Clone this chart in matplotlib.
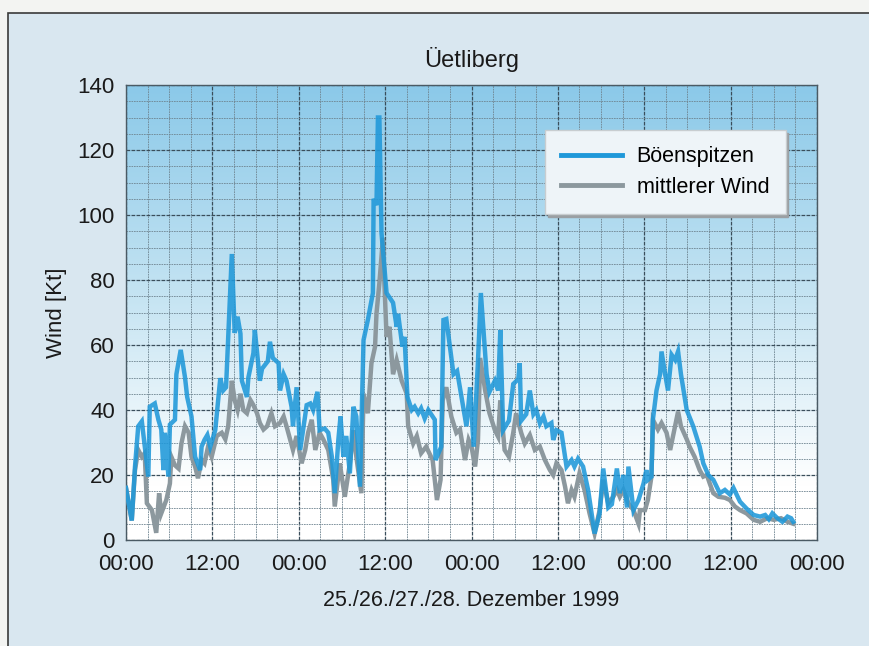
import matplotlib
matplotlib.use("Agg")
import matplotlib.pyplot as plt
import numpy as np
from matplotlib.colors import LinearSegmentedColormap
from matplotlib.patches import Rectangle

plt.rcParams['font.family'] = ['Liberation Sans', 'DejaVu Sans']

# hours since 25.12.1999 00:00, wind in Kt
gust_t = [0.0, 0.8, 1.25, 1.7, 2.2, 3.1, 3.3, 4.0, 4.5, 4.9, 5.2, 5.4, 5.9, 6.1, 6.8, 7.0, 7.6, 8.2, 8.5, 9.1,
          9.6, 10.3, 10.5, 10.9, 11.3, 11.7, 12.4, 13.1, 13.5, 13.9, 14.7, 15.1, 15.5, 15.9, 16.1, 16.8, 17.0, 17.7,
          17.9, 18.6, 18.9, 19.7, 20.0, 20.4, 21.2, 21.4, 21.9, 22.3, 23.0, 23.2, 23.7, 24.2, 24.4, 25.1, 25.6, 26.0,
          26.6, 26.9, 27.6, 28.1, 28.6, 29.0, 29.5, 29.8, 30.2, 30.6, 31.1, 31.6, 32.0, 32.5, 33.0, 33.6, 34.3, 34.4,
          34.8, 35.0, 35.2, 35.5, 36.2, 37.1, 37.6, 37.8, 38.4, 38.7, 39.1, 39.7, 40.1, 40.6, 41.0, 41.5, 42.0, 42.9,
          43.0, 43.8, 44.1, 44.5, 45.5, 46.0, 47.3, 47.8, 48.3, 48.9, 49.3, 50.1, 50.5, 51.25, 51.7, 52.0, 52.4, 53.2,
          53.8, 54.5, 54.7, 54.9, 55.6, 56.1, 56.6, 57.0, 57.5, 58.0, 58.4, 59.1, 59.35, 59.8, 60.5, 61.2, 61.9, 62.3,
          62.8, 63.5, 64.2, 65.1, 65.8, 66.3, 67.0, 67.5, 68.2, 68.6, 69.1, 69.6, 69.8, 70.5, 71.2, 71.9, 72.3, 72.5,
          73.0, 73.2, 73.7, 74.2, 74.4, 74.9, 75.3, 75.8, 76.3, 76.7, 77.1, 77.9, 78.8, 79.7, 80.2, 80.9, 81.6, 82.5,
          83.2, 83.9, 84.4, 85.3, 86.2, 87.2, 88.1, 88.8, 89.3, 89.8, 90.5, 91.2, 91.9, 92.4, 92.7]
gust_v = [16, 6, 22.6, 35, 36.5, 19.5, 41, 42, 37, 34, 21.5, 33, 19.5, 35.5, 37, 51, 58.5, 50, 44, 38,
          25.6, 21.5, 28.7, 30.8, 32.3, 28.7, 33.8, 49.8, 46, 47, 88, 63.7, 68.7, 63.5, 49, 44, 50, 57.5,
          64.6, 49, 52.7, 55, 61, 56, 54.4, 46, 51, 49, 41, 35, 47, 27.7, 30.8, 41.5, 42, 40,
          45.6, 33.8, 34.3, 33, 25.6, 14.4, 30.8, 38, 25.6, 32, 20.5, 41, 38, 16.4, 61.5, 67.7, 76, 105,
          103, 130, 130, 94.4, 76, 73, 65.6, 69.6, 59.5, 62.5, 44, 40, 41, 39, 40.5, 37.4, 40, 37,
          24.6, 28.7, 67.7, 68, 51, 52, 35, 47, 28.7, 55, 76, 51, 45.6, 49, 46, 64.6, 33.8, 36.7,
          48, 49.5, 54.4, 36.7, 38.7, 46, 38.7, 40, 35.9, 38, 35, 36, 30.8, 33.8, 33, 22.6, 24.6, 22.6,
          25, 22.6, 15.4, 2, 8.2, 22, 10, 11, 22, 14.4, 20, 10, 22.6, 9.2, 12.3, 17.4, 21.5, 18.5,
          19.5, 37, 46, 51, 58, 51, 46, 57, 55.4, 58, 51, 40, 35, 28.7, 23.6, 20, 18.5, 14.4,
          15.4, 14, 16, 11.8, 9.7, 7.7, 7.2, 7.7, 6.4, 8.2, 6.7, 5.6, 7.2, 6.7, 5.6]

mean_t = [0.0, 0.8, 1.25, 1.7, 2.2, 2.6, 2.9, 3.6, 4.2, 4.6, 4.9, 5.6, 6.1, 6.3, 6.8, 7.3, 7.7, 8.2, 8.7, 9.1,
          9.6, 10.0, 10.5, 10.9, 11.4, 11.9, 12.6, 13.3, 13.8, 14.2, 14.7, 15.1, 15.5, 15.9, 16.3, 16.8, 17.3, 17.7,
          18.2, 18.6, 19.1, 19.6, 20.2, 20.7, 21.4, 21.9, 22.3, 22.8, 23.2, 23.7, 24.4, 24.9, 25.3, 25.8, 26.3, 26.9,
          27.4, 28.1, 28.8, 29.0, 29.7, 30.4, 31.1, 31.6, 32.0, 32.7, 33.0, 33.6, 34.1, 34.6, 34.8, 35.2, 35.7, 35.9,
          36.2, 36.6, 37.1, 37.6, 38.3, 39.0, 39.2, 39.9, 40.4, 41.0, 41.7, 42.6, 43.2, 43.7, 44.0, 44.5, 45.2, 45.9,
          46.4, 47.1, 47.6, 48.0, 48.5, 48.9, 49.2, 49.9, 50.5, 51.25, 51.7, 52.0, 52.6, 53.2, 53.8, 54.2, 54.9, 55.4,
          56.1, 56.8, 57.5, 58.2, 58.9, 59.35, 59.8, 60.5, 61.0, 61.4, 61.9, 62.3, 63.0, 63.7, 64.4, 65.1, 65.8, 66.3,
          67.0, 67.7, 68.2, 68.6, 69.1, 69.8, 70.5, 71.2, 71.4, 72.1, 72.5, 73.0, 73.2, 73.9, 74.4, 75.1, 75.6, 76.0,
          76.7, 77.1, 77.9, 78.3, 79.0, 79.7, 80.2, 80.7, 81.1, 81.6, 82.3, 83.2, 83.9, 84.6, 85.3, 86.2, 87.2, 88.1,
          89.1, 90.0, 91.0, 91.9, 92.7]
mean_v = [16, 6, 21.5, 27.7, 25.6, 26.7, 11.3, 9.2, 2.2, 14.4, 8.2, 12.3, 17.4, 25.6, 23, 22, 29.7, 35, 33, 25.6,
          22.6, 19, 24.6, 23.6, 28.7, 25.6, 32, 33, 31, 35, 49, 43, 40, 45, 40, 39, 43, 41.5,
          39, 36, 34, 35, 39, 35, 36, 38, 35, 31, 27.7, 32, 23.6, 27.7, 33, 37, 27.7, 33,
          31, 27.7, 18.5, 10.3, 23.6, 13.3, 23.6, 33.8, 25.6, 14.4, 45, 39, 54.4, 59.5, 69.7, 79, 93, 79,
          62.5, 65.6, 51, 55.4, 49, 45, 35, 29.7, 32, 26.7, 28.7, 24.6, 12.3, 18.5, 43, 47, 38, 33,
          34, 24.6, 30.8, 28.7, 22.6, 30.8, 56, 46, 39, 33.8, 31.8, 43, 27.7, 25.6, 33, 39, 33, 29.7,
          32.3, 27.7, 28.7, 24.6, 21.5, 20, 23.6, 21.5, 16.4, 11.3, 15.4, 13.3, 20.5, 15.4, 8.2, 2, 9.2, 18.5,
          11.3, 13.3, 15.4, 13.3, 15.4, 11.3, 9.2, 5, 9.2, 9.2, 12.3, 19.5, 37, 34, 36, 33, 27.7, 32,
          39.5, 35, 31, 28.7, 25.6, 21.5, 19.5, 20, 17.4, 14.4, 13.3, 13, 12.3, 10.3, 9.2, 8.2, 6.2, 5.6,
          6.7, 6.2, 6.7, 5.6, 5]

x_ticks = [0, 12, 24, 36, 48, 60, 72, 84, 96]
x_labels = ["00:00", "12:00", "00:00", "12:00", "00:00", "12:00", "00:00", "12:00", "00:00"]
y_ticks = list(range(0, 141, 20))

fig = plt.figure(figsize=(8.7, 6.46), dpi=100, facecolor='#f3f4f2')
# light panel behind the chart
panel = Rectangle((0.009, -0.05), 1.05, 0.05 + 1 - 13/646, transform=fig.transFigure,
                  facecolor='#d9e7f0', edgecolor='#3a3a3a', lw=1.2, zorder=-10)
fig.add_artist(panel)

ax = fig.add_axes([126/870, 106/646, 691/870, 455/646])
ax.set_zorder(1)

# gradient background, blue at the top, white near the bottom
cmap = LinearSegmentedColormap.from_list('bg', [(0, '#ffffff'), (0.12, '#ffffff'), (0.55, '#c3e3f2'), (1, '#8bc9e9')])
grad = np.linspace(0, 1, 256).reshape(-1, 1)
ax.imshow(grad, extent=[0, 96, 0, 140], origin='lower', aspect='auto', cmap=cmap, zorder=0)

ax.set_xlim(0, 96)
ax.set_ylim(0, 140)
ax.set_xticks(x_ticks)
ax.set_xticklabels(x_labels)
ax.set_xticks(np.arange(0, 97, 3), minor=True)
ax.set_yticks(y_ticks)
ax.set_yticks(np.arange(0, 141, 5), minor=True)
ax.grid(which='minor', color='#6f8591', lw=0.6, ls=(0, (2, 1)), zorder=1)
ax.grid(which='major', color='#3a4e5b', lw=0.9, ls=(0, (3, 1)), zorder=1)
ax.tick_params(which='both', length=0, labelsize=16, colors='#1a1a1a')
ax.tick_params(axis='x', pad=10)
ax.tick_params(axis='y', pad=8)
for s in ax.spines.values():
    s.set_color('#4a5a64')
    s.set_linewidth(1.0)

ax.plot(mean_t, mean_v, color='#8c989e', lw=3.2, zorder=3, label='mittlerer Wind', solid_joinstyle='miter')
ax.plot(gust_t, gust_v, color='#1f98d9', lw=3.2, alpha=0.88, zorder=4, label='Böenspitzen', solid_joinstyle='miter')

ax.set_title('Üetliberg', fontsize=17, pad=13, color='#1a1a1a')
ax.set_ylabel('Wind [Kt]', fontsize=16, labelpad=8, color='#1a1a1a')
ax.set_xlabel('25./26./27./28. Dezember 1999', fontsize=15.5, labelpad=11, color='#1a1a1a')

h, l = ax.get_legend_handles_labels()
leg = ax.legend(h[::-1], l[::-1], loc='upper right', bbox_to_anchor=(0.97, 0.925), fontsize=15.5,
                handlelength=2.8, handletextpad=0.7, borderpad=0.75, labelspacing=0.45,
                fancybox=False, shadow={'color': '#9a9fa3', 'alpha': 1}, framealpha=1,
                facecolor='#eef4f8', edgecolor='#c8cdd0')
leg.set_zorder(6)
for line in leg.get_lines():
    line.set_linewidth(3.5)
    line.set_alpha(1)

fig.savefig('out.png', dpi=100, facecolor=fig.get_facecolor())
